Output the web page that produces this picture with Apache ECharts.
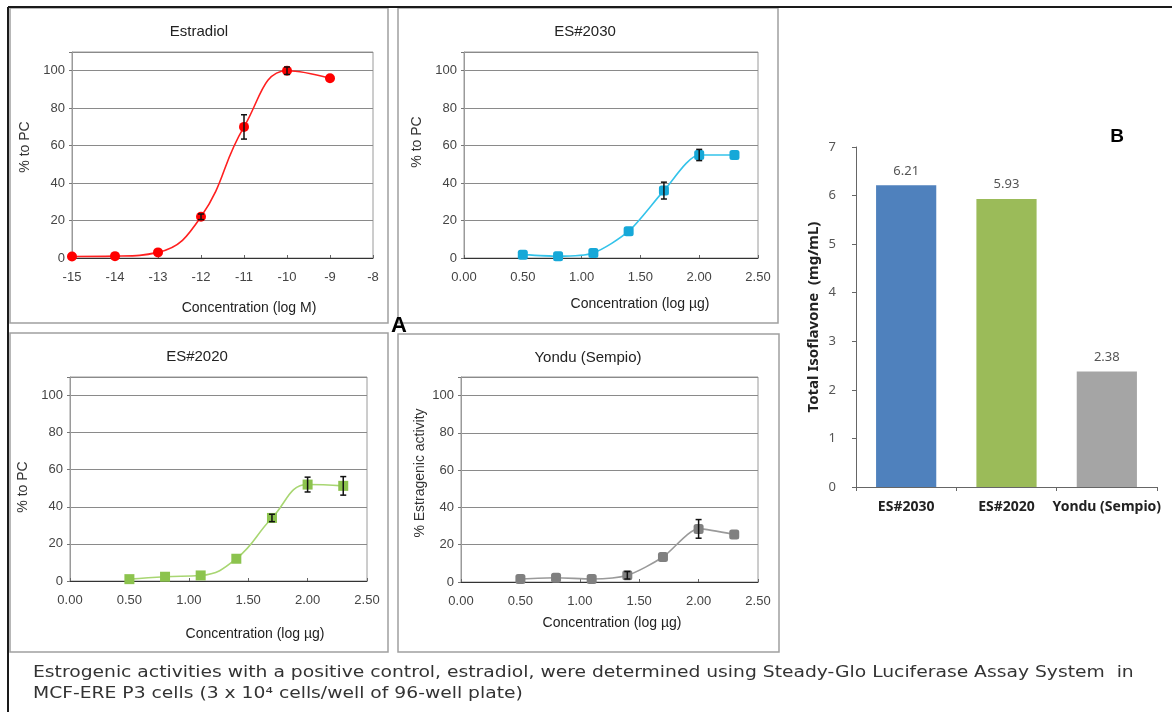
<!DOCTYPE html>
<html><head><meta charset="utf-8">
<script src="https://cdn.jsdelivr.net/npm/echarts@6/dist/echarts.min.js"></script>
<style>html,body{margin:0;padding:0;background:#fff}#c{width:1172px;height:712px}</style>
</head><body><div id="c"></div>
<script>
// ---------- data ----------
const estradiolX   = [-15, -14, -13, -12, -11, -10, -9];
const estradiolY   = [0.8, 1.0, 3.0, 22, 70, 100, 96];
const estradiolErr = [0.5, 0.5, 1.0, 1.5, 6.5, 2.0, 1.0];

const doseX      = [0.5, 0.8, 1.1, 1.4, 1.7, 2.0, 2.3];
const es2030Y    = [1.8, 1.0, 2.7, 14.3, 36, 55, 55];
const es2030Err  = [0.8, 0.8, 1.0, 1.2, 4.5, 3.0, 1.2];
const es2020Y    = [1.0, 2.3, 3.0, 12, 34, 52, 51.3];
const es2020Err  = [0.5, 0.8, 1.0, 1.2, 2.0, 4.0, 5.0];
const yonduY     = [1.6, 2.3, 1.6, 3.6, 13.4, 28.5, 25.5];
const yonduErr   = [0.5, 0.8, 0.5, 2.0, 1.0, 5.0, 1.0];

const panelTitles = ['Estradiol', 'ES#2030', 'ES#2020', 'Yondu (Sempio)'];
const xTitles = ['Concentration (log M)', 'Concentration (log \u00b5g)', 'Concentration (log \u00b5g)', 'Concentration (log \u00b5g)'];
const yTitles = ['% to PC', '% to PC', '% to PC', '% Estragenic activity'];

const barCategories = ['ES#2030', 'ES#2020', 'Yondu (Sempio)'];
const barValues     = [6.21, 5.93, 2.38];
const barTitle = 'Total Isoflavone  (mg/mL)';

const caption1 = 'Estrogenic activities with a positive control, estradiol, were determined using Steady-Glo Luciferase Assay System  in';
const caption2 = 'MCF-ERE P3 cells (3 x 10\u2074 cells/well of 96-well plate)';

// ---------- helpers ----------
const FONT = 'Liberation Sans, Arial, sans-serif';
const zip = (xs, ys) => xs.map((x, i) => [x, ys[i]]);
const zip3 = (xs, ys, es) => xs.map((x, i) => [x, ys[i], es[i]]);

function errRender(params, api) {
  const x = api.value(0), y = api.value(1), e = api.value(2);
  if (e < 1.5) return null;
  const t = api.coord([x, y + e]), b = api.coord([x, y - e]);
  const hw = 3, st = {stroke: '#111', lineWidth: 1.5};
  return {type: 'group', children: [
    {type: 'line', shape: {x1: t[0], y1: t[1], x2: b[0], y2: b[1]}, style: st},
    {type: 'line', shape: {x1: t[0] - hw, y1: t[1], x2: t[0] + hw, y2: t[1]}, style: st},
    {type: 'line', shape: {x1: b[0] - hw, y1: b[1], x2: b[0] + hw, y2: b[1]}, style: st}
  ]};
}

const grids = [
  {left: 72,  top: 52,  width: 301, height: 206},
  {left: 464, top: 52,  width: 294, height: 206},
  {left: 70,  top: 377, width: 297, height: 204},
  {left: 461, top: 377, width: 297, height: 205},
  {left: 856, top: 147, width: 301, height: 340}
].map((g, i) => Object.assign({show: i < 4, borderColor: '#9a9a9a', borderWidth: 1, backgroundColor: 'transparent'}, g));

const xAxes = [], yAxes = [], series = [];
const xRanges = [[-15, -8, 1], [0, 2.5, 0.5], [0, 2.5, 0.5], [0, 2.5, 0.5]];
for (let i = 0; i < 4; i++) {
  const r = xRanges[i];
  xAxes.push({type: 'value', gridIndex: i, min: r[0], max: r[1], interval: r[2],
    axisLine: {onZero: false, lineStyle: {color: '#333', width: 1}},
    axisTick: {show: true, inside: true, length: 3, lineStyle: {color: '#666'}},
    axisLabel: {color: '#444', fontSize: 13, fontFamily: FONT, margin: 13,
      formatter: v => i === 0 ? String(v) : v.toFixed(2)},
    splitLine: {show: false}});
  yAxes.push({type: 'value', gridIndex: i, min: 0, max: 110, interval: 20,
    axisLine: {show: true, lineStyle: {color: '#9a9a9a'}},
    axisTick: {show: true, length: 3, lineStyle: {color: '#777'}},
    axisLabel: {color: '#444', fontSize: 13, fontFamily: FONT, margin: 7,
      formatter: v => v > 100 ? '' : String(v)},
    splitLine: {show: true, lineStyle: {color: '#8a8a8a', width: 1}}});
}
// bar axes
xAxes.push({type: 'category', gridIndex: 4, data: barCategories,
  axisLine: {show: true, lineStyle: {color: '#666'}},
  axisTick: {show: true, length: 4, lineStyle: {color: '#666'}},
  axisLabel: {interval: 0, hideOverlap: false, color: '#222', fontSize: 14, fontWeight: 'bold',
    fontFamily: 'Noto Sans, sans-serif', margin: 13}});
yAxes.push({type: 'value', gridIndex: 4, min: 0, max: 7, interval: 1,
  name: barTitle, nameLocation: 'middle', nameGap: 35,
  nameTextStyle: {fontSize: 15, fontWeight: 'bold', color: '#222', fontFamily: 'Noto Sans, sans-serif'},
  axisLine: {show: true, lineStyle: {color: '#666'}},
  axisTick: {show: true, length: 4, lineStyle: {color: '#666'}},
  axisLabel: {color: '#555', fontSize: 13, fontFamily: 'Noto Sans, sans-serif', margin: 20},
  splitLine: {show: false}});

const lineStyles = [
  {name: 'Estradiol', y: estradiolY, x: estradiolX, e: estradiolErr, line: '#ff2020', mark: '#ff0000', symbol: 'circle', smooth: 0.45},
  {name: 'ES#2030', y: es2030Y, x: doseX, e: es2030Err, line: '#34c3ea', mark: '#16a8d8', symbol: 'roundRect', smooth: 0.25},
  {name: 'ES#2020', y: es2020Y, x: doseX, e: es2020Err, line: '#a8d672', mark: '#8cc34e', symbol: 'rect', smooth: 0.45},
  {name: 'Yondu (Sempio)', y: yonduY, x: doseX, e: yonduErr, line: '#9a9a9a', mark: '#808080', symbol: 'roundRect', smooth: 0.25}
];
lineStyles.forEach((s, i) => {
  series.push({type: 'custom', xAxisIndex: i, yAxisIndex: i, z: 3,
    renderItem: errRender, data: zip3(s.x, s.y, s.e), silent: true});
  series.push({type: 'line', name: s.name, xAxisIndex: i, yAxisIndex: i, z: 2,
    data: zip(s.x, s.y), smooth: s.smooth, symbol: s.symbol, symbolSize: 10,
    lineStyle: {color: s.line, width: 1.6}, itemStyle: {color: s.mark}});
});
const barColors = ['#4f81bd', '#9bbb59', '#a5a5a5'];
series.push({type: 'bar', xAxisIndex: 4, yAxisIndex: 4, barWidth: '60%',
  data: barValues.map((v, i) => ({value: v, itemStyle: {color: barColors[i]}})),
  label: {show: true, position: 'top', distance: 8, color: '#555', fontSize: 13, fontFamily: 'Noto Sans, sans-serif',
    formatter: p => p.value.toFixed(2)}});

// ---------- graphic (frames + texts) ----------
const frame = (x, y, w, h) => ({type: 'rect', shape: {x, y, width: w, height: h},
  style: {fill: 'none', stroke: '#a0a0a0', lineWidth: 1.5}, silent: true, z: 0});
const txt = (text, x, y, opt = {}) => Object.assign({type: 'text', x, y, silent: true, z: 10,
  style: Object.assign({text, fill: '#222', font: '14px ' + FONT, textAlign: 'center', textVerticalAlign: 'middle'}, opt.style || {})},
  opt.rot ? {rotation: opt.rot} : {}, opt.scaleX ? {scaleX: opt.scaleX} : {});
const graphic = [
  frame(10, 8, 378, 315), frame(398, 8, 380, 315), frame(10, 333, 378, 319), frame(398, 334, 381, 318),
  {type: 'line', shape: {x1: 8, y1: 7, x2: 1172, y2: 7}, style: {stroke: '#1a1a1a', lineWidth: 2}, z: 1},
  {type: 'line', shape: {x1: 8, y1: 7, x2: 8, y2: 712}, style: {stroke: '#1a1a1a', lineWidth: 2}, z: 1},
  txt(panelTitles[0], 199, 32, {style: {font: '15px ' + FONT}}),
  txt(panelTitles[1], 585, 32, {style: {font: '15px ' + FONT}}),
  txt(panelTitles[2], 197, 357, {style: {font: '15px ' + FONT}}),
  txt(panelTitles[3], 588, 358, {style: {font: '15px ' + FONT}}),
  txt(xTitles[0], 249, 308), txt(xTitles[1], 640, 304), txt(xTitles[2], 255, 634), txt(xTitles[3], 612, 623),
  txt(yTitles[0], 25, 147, {rot: Math.PI / 2, style: {fill: '#333'}}),
  txt(yTitles[1], 417, 142, {rot: Math.PI / 2, style: {fill: '#333'}}),
  txt(yTitles[2], 23, 487, {rot: Math.PI / 2, style: {fill: '#333'}}),
  txt(yTitles[3], 420, 473, {rot: Math.PI / 2, style: {fill: '#333'}}),
  txt('A', 399, 326, {style: {font: 'bold 22px ' + FONT, fill: '#000'}}),
  txt('B', 1117, 137, {style: {font: 'bold 19px ' + FONT, fill: '#000'}}),
  txt(caption1, 33, 673, {scaleX: 1.17, style: {font: '16px DejaVu Sans, sans-serif', textAlign: 'left', fill: '#333'}}),
  txt(caption2, 33, 694, {scaleX: 1.17, style: {font: '16px DejaVu Sans, sans-serif', textAlign: 'left', fill: '#333'}})
];

const chart = echarts.init(document.getElementById('c'), null, {renderer: 'canvas'});
chart.setOption({animation: false, backgroundColor: '#fff', grid: grids, xAxis: xAxes, yAxis: yAxes, series, graphic});
</script></body></html>
